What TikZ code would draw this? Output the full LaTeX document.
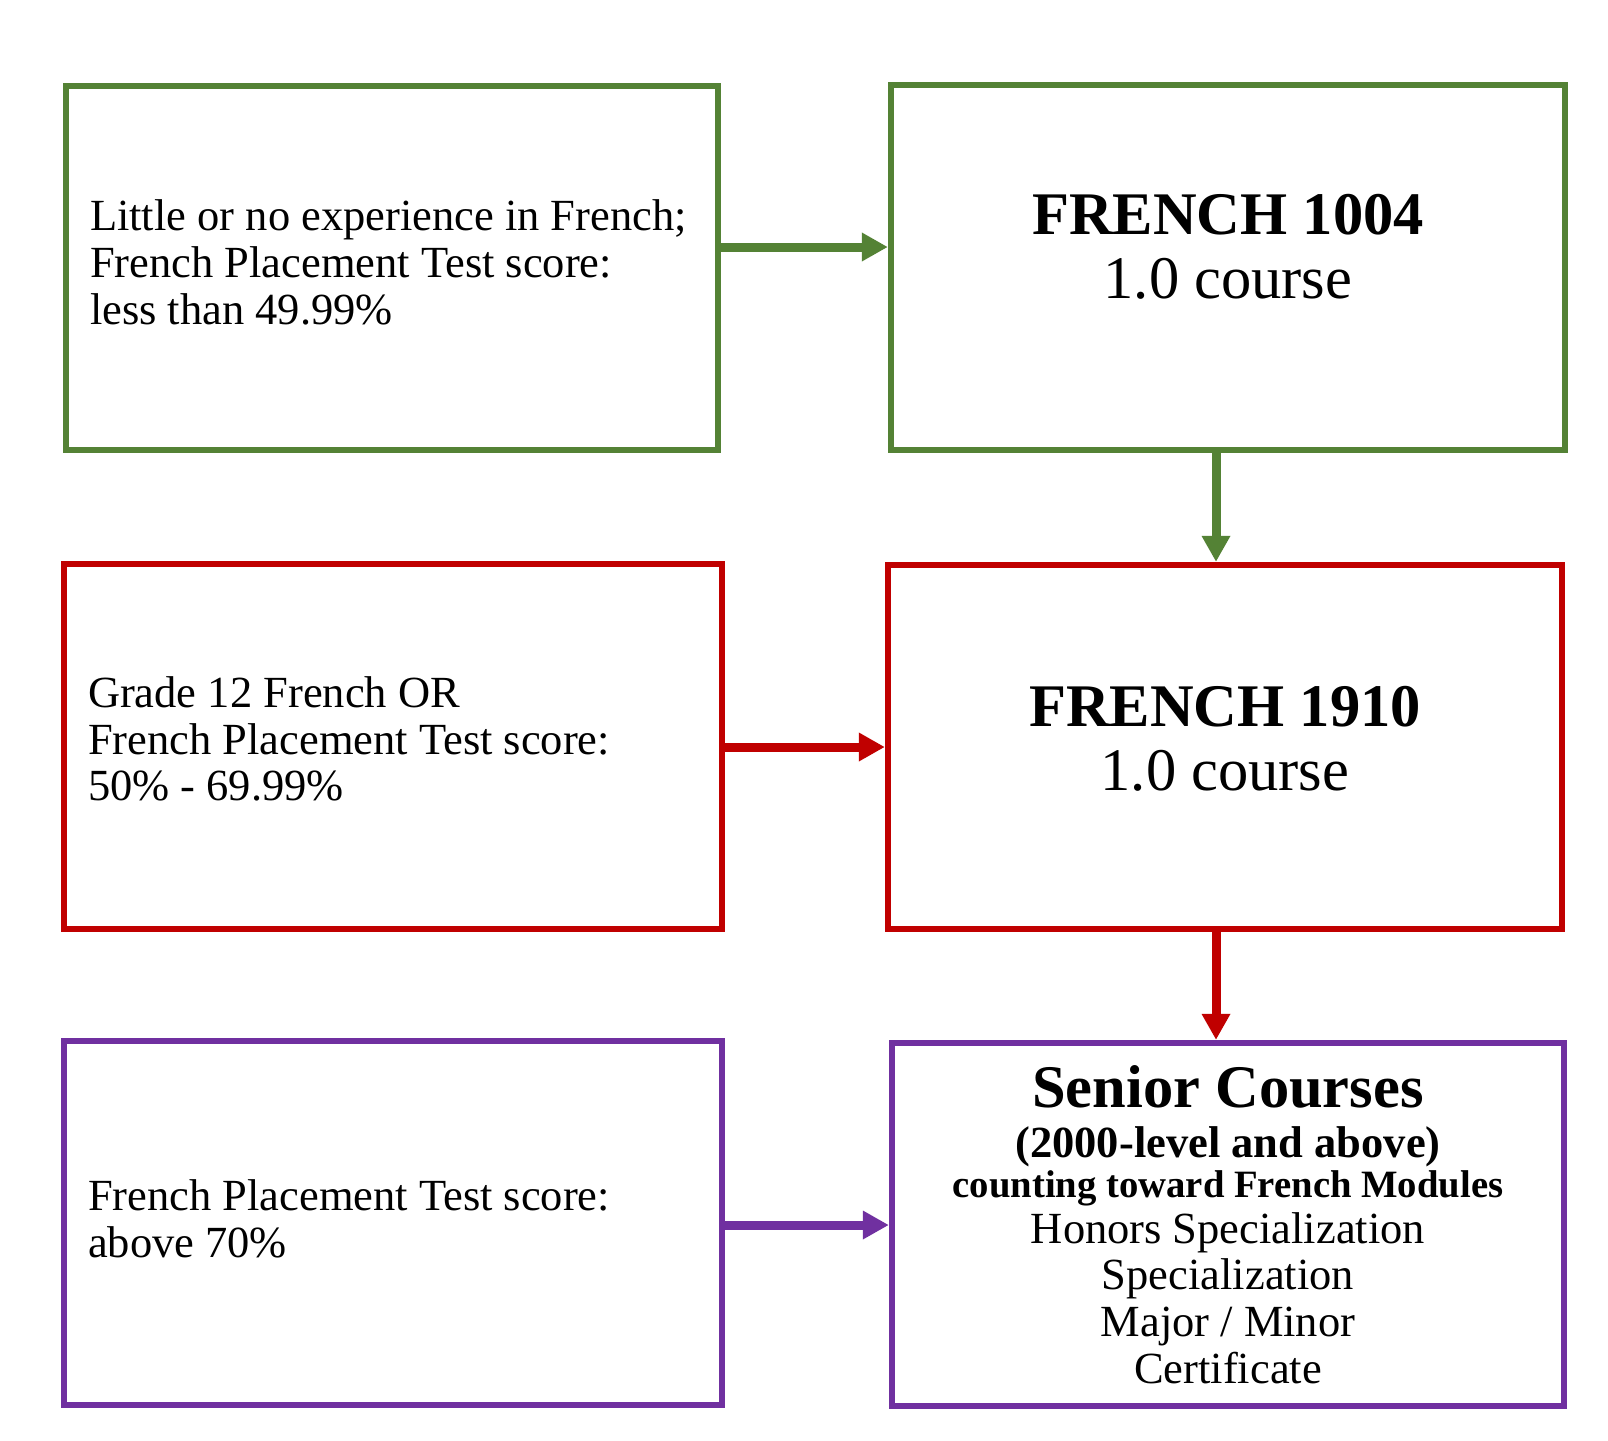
\documentclass[tikz,border=0pt]{standalone}
\usepackage{fontspec}
\setmainfont{Liberation Serif}
\usetikzlibrary{arrows.meta}
\definecolor{cgreen}{HTML}{548235}
\definecolor{cred}{HTML}{C00000}
\definecolor{cpurple}{HTML}{7030A0}
% one line of text: #1 left filler, #2 distance from previous baseline, #3 text
\newcommand\tline[3][\hss]{\hbox to\hsize{#1\rule{0pt}{#2}\smash{#3}\hss}}
\newcommand\boxtext[3]{\parbox[c][#2][t]{#1}{\offinterlineskip #3}}
\tikzset{
  box/.style={draw, line width=6.3pt, inner sep=0pt, outer sep=3.15pt,
              font=\fontsize{44.5}{47}\selectfont},
  gbox/.style={box, draw=cgreen},
  rbox/.style={box, draw=cred},
  pbox/.style={box, draw=cpurple},
  arr/.style={line width=9pt, -{Triangle[length=26pt,width=27pt]}}
}
\begin{document}
\begin{tikzpicture}[x=1pt,y=-1pt]
\useasboundingbox (0,0) rectangle (1608,1440);
% left column
\node[gbox] (b1) at (392,268) {\boxtext{652pt}{364pt}{%
  \tline[\hskip24pt]{144pt}{Little or no experience in French;}%
  \tline[\hskip24pt]{47pt}{French Placement Test score:}%
  \tline[\hskip24pt]{47pt}{less than 49.99\%}}};
\node[rbox] (b3) at (393,746.5) {\boxtext{658pt}{365pt}{%
  \tline[\hskip24pt]{143.5pt}{Grade 12 French OR}%
  \tline[\hskip24pt]{46.5pt}{French Placement Test score:}%
  \tline[\hskip24pt]{46pt}{50\% - 69.99\%}}};
\node[pbox] (b5) at (393,1223) {\boxtext{658pt}{364pt}{%
  \tline[\hskip24pt]{169pt}{French Placement Test score:}%
  \tline[\hskip24pt]{47pt}{above 70\%}}};
% right column
\node[gbox] (b2) at (1228,267.5) {\boxtext{674pt}{365pt}{%
  \tline{149pt}{\fontsize{60.5}{64}\selectfont\bfseries FRENCH 1004}%
  \tline{64pt}{\fontsize{60.5}{64}\selectfont 1.0 course}}};
\node[rbox] (b4) at (1225,747) {\boxtext{674pt}{364pt}{%
  \tline{161pt}{\fontsize{60.5}{64}\selectfont\bfseries FRENCH 1910}%
  \tline{64pt}{\fontsize{60.5}{64}\selectfont 1.0 course}}};
\node[pbox] (b6) at (1228,1224.5) {\boxtext{672pt}{363pt}{%
  \tline{64pt}{\fontsize{60.5}{62}\selectfont\bfseries Senior Courses}%
  \tline{50pt}{\bfseries (2000-level and above)}%
  \tline{40pt}{\fontsize{38.7}{40}\selectfont\bfseries counting toward French Modules}%
  \tline{46pt}{Honors Specialization}%
  \tline{46pt}{Specialization}%
  \tline{47pt}{Major / Minor}%
  \tline{47pt}{Certificate}}};
% connectors
\draw[arr, cgreen] (b1.east |- 0,247) -- (b2.west |- 0,247);
\draw[arr, cred] (b3.east |- 0,747) -- (b4.west |- 0,747);
\draw[arr, cpurple] (b5.east |- 0,1225) -- (b6.west |- 0,1225);
\draw[arr, cgreen] (b2.south -| 1216,0) -- (b4.north -| 1216,0);
\draw[arr, cred] (b4.south -| 1216,0) -- (b6.north -| 1216,0);
\end{tikzpicture}
\end{document}
